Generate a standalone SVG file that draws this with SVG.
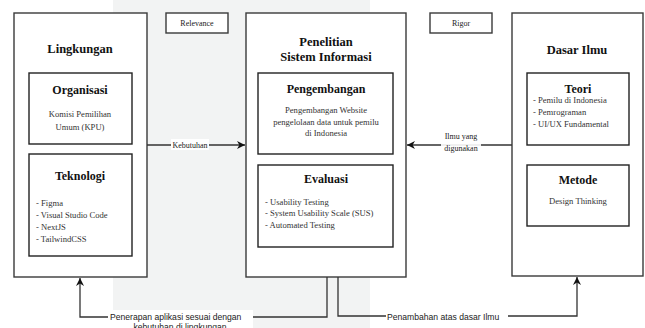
<svg xmlns="http://www.w3.org/2000/svg" width="645" height="328" viewBox="0 0 645 328">
<defs>
<marker id="arr" viewBox="0 0 10 10" refX="10" refY="5" markerWidth="8" markerHeight="8" markerUnits="userSpaceOnUse" orient="auto">
<path d="M0,0 L10,5 L0,10 L3,5 Z" fill="#111"/>
</marker>
<style>
.box{fill:#fff;stroke:#3a3a3a;stroke-width:1.4}
.inner{fill:#fff;stroke:#222;stroke-width:1.4}
.serif{font-family:'Liberation Serif','Times New Roman',serif}
.title{font-weight:bold;font-size:12.5px;fill:#111;text-anchor:middle}
.sub{font-weight:bold;font-size:12px;fill:#111;text-anchor:middle}
.txt{font-size:8.6px;fill:#333}
.mid{text-anchor:middle}
.lbl{font-size:8px;fill:#222;text-anchor:middle}
.sans{font-family:'Liberation Sans',Arial,sans-serif;font-size:8.6px;fill:#222}
.conn{fill:none;stroke:#333;stroke-width:1.3}
</style>
</defs>
<rect x="0" y="0" width="645" height="328" fill="#fff"/>
<rect x="113" y="0" width="257" height="328" fill="#f2f3f3"/>

<g class="serif">
<g id="relevance">
<rect class="box" x="166" y="13" width="62" height="20"/>
<text class="lbl" x="197" y="26">Relevance</text>
</g>
<g id="rigor">
<rect class="box" x="430" y="13" width="62" height="20"/>
<text class="lbl" x="461" y="26">Rigor</text>
</g>

<g id="lingkungan">
<rect class="box" x="14" y="13" width="133" height="264"/>
<text class="title" x="80" y="53">Lingkungan</text>
</g>
<g id="organisasi">
<rect class="inner" x="29" y="73" width="103" height="71"/>
<text class="sub" x="80" y="94">Organisasi</text>
<text class="txt mid" x="80" y="117">Komisi Pemilihan</text>
<text class="txt mid" x="80" y="130">Umum (KPU)</text>
</g>
<g id="teknologi">
<rect class="inner" x="29" y="154" width="103" height="102"/>
<text class="sub" x="80" y="180">Teknologi</text>
<text class="txt" x="36" y="206">- Figma</text>
<text class="txt" x="36" y="218">- Visual Studio Code</text>
<text class="txt" x="36" y="230">- NextJS</text>
<text class="txt" x="36" y="242">- TailwindCSS</text>
</g>

<g id="penelitian">
<rect class="box" x="246" y="13" width="160" height="264"/>
<text class="title" x="326" y="46">Penelitian</text>
<text class="title" x="326" y="61">Sistem Informasi</text>
</g>
<g id="pengembangan">
<rect class="inner" x="258" y="73" width="135" height="81"/>
<text class="sub" x="326" y="93">Pengembangan</text>
<text class="txt mid" x="326" y="113">Pengembangan Website</text>
<text class="txt mid" x="326" y="125">pengelolaan data untuk pemilu</text>
<text class="txt mid" x="326" y="136">di Indonesia</text>
</g>
<g id="evaluasi">
<rect class="inner" x="258" y="165" width="135" height="82"/>
<text class="sub" x="326" y="183">Evaluasi</text>
<text class="txt" x="265" y="205">- Usability Testing</text>
<text class="txt" x="265" y="216">- System Usability Scale (SUS)</text>
<text class="txt" x="265" y="228">- Automated Testing</text>
</g>

<g id="dasar-ilmu">
<rect class="box" x="512" y="13" width="131" height="263"/>
<text class="title" x="577" y="54">Dasar Ilmu</text>
</g>
<g id="teori">
<rect class="inner" x="527" y="73" width="102" height="72"/>
<text class="sub" x="578" y="93">Teori</text>
<text class="txt" x="533" y="103">- Pemilu di Indonesia</text>
<text class="txt" x="533" y="115">- Pemrograman</text>
<text class="txt" x="533" y="127">- UI/UX Fundamental</text>
</g>
<g id="metode">
<rect class="inner" x="527" y="165" width="102" height="61"/>
<text class="sub" x="578" y="184">Metode</text>
<text class="txt mid" x="578" y="204">Design Thinking</text>
</g>
</g>

<g id="connectors">
<path class="conn" d="M147,145 H245" marker-end="url(#arr)"/>
<rect x="171" y="139" width="38" height="11" fill="#fff"/>
<text class="lbl serif" x="190" y="148">Kebutuhan</text>

<path class="conn" d="M512,145 H407" marker-end="url(#arr)"/>
<rect x="441" y="130" width="40" height="22" fill="#fff" opacity="0.9"/>
<text class="lbl serif" x="461" y="139">Ilmu yang</text>
<text class="lbl serif" x="461" y="151">digunakan</text>

<path class="conn" d="M327,277 V317 H80 V278" marker-end="url(#arr)"/>
<rect x="108" y="310" width="145" height="18" fill="#fff"/>
<text class="sans" x="110" y="320">Penerapan aplikasi sesuai dengan</text>
<text class="sans" x="180" y="329.5" text-anchor="middle">kebutuhan di lingkungan</text>

<path class="conn" d="M338,277 V316 H577 V277" marker-end="url(#arr)"/>
<rect x="386" y="311" width="122" height="12" fill="#fff"/>
<text class="sans" x="387" y="320">Penambahan atas dasar Ilmu</text>
</g>
</svg>
